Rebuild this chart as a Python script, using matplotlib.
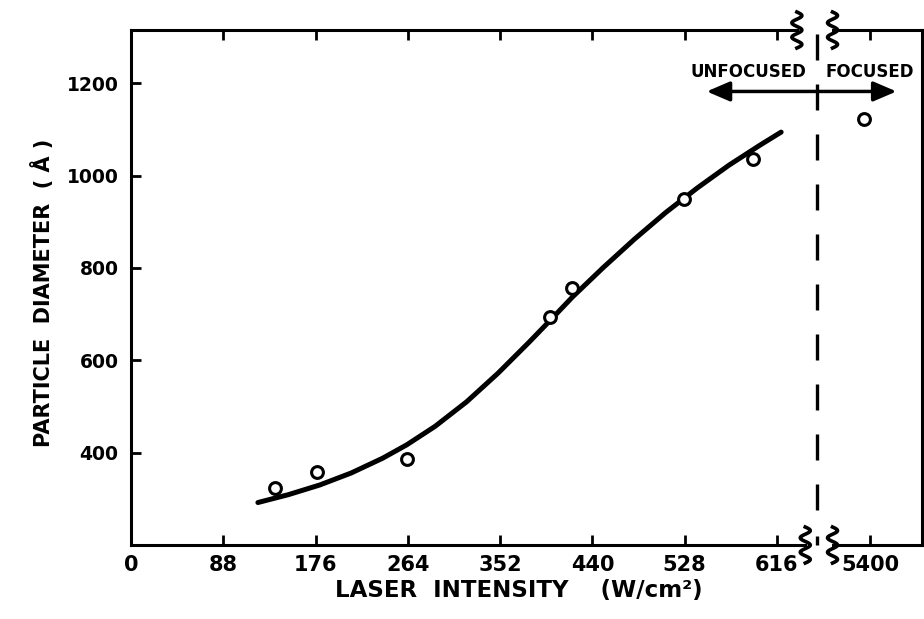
import numpy as np
import matplotlib
matplotlib.use("Agg")
import matplotlib.pyplot as plt
from matplotlib import transforms
from matplotlib.lines import Line2D
from matplotlib.collections import LineCollection

plt.rcParams['font.family'] = ['DejaVu Sans']
plt.rcParams['font.weight'] = 'bold'

# Measured particle diameters (unfocused beam)
intensity = [137, 177, 263, 400, 421, 527, 593]
diameter = [324, 359, 387, 694, 757, 949, 1036]

# Focused beam measurement
focused_intensity = [5340]
focused_diameter = [1122]

# Hand-drawn trend curve through the unfocused data
fit_intensity = [121, 150, 180, 210, 240, 263, 290, 320, 350, 380, 400,
                 421, 450, 480, 510, 540, 570, 600, 620]
fit_diameter = [292, 309, 330, 356, 388, 417, 457, 510, 572, 640, 687,
                737, 800, 862, 920, 973, 1022, 1066, 1094]

x_ticks = [0, 88, 176, 264, 352, 440, 528, 616, 5400]
x_tick_labels = ['0', '88', '176', '264', '352', '440', '528', '616', '5400']
y_ticks = [400, 600, 800, 1000, 1200]
y_tick_labels = ['400', '600', '800', '1000', '1200']

# Broken x axis: linear up to BREAK, then a compressed segment around 5400
BREAK = 654.0
RESUME = 4890.0
STRETCH = 10.0


def forward(x):
    x = np.asarray(x, dtype=float)
    return np.where(x <= BREAK, x,
                    np.where(x < RESUME, BREAK, BREAK + (x - RESUME) / STRETCH))


def inverse(p):
    p = np.asarray(p, dtype=float)
    return np.where(p <= BREAK, p, RESUME + (p - BREAK) * STRETCH)


fig = plt.figure(figsize=(9.24, 6.19), dpi=100)
ax = fig.add_axes([0.1418, 0.1195, 0.856, 0.832])
ax.set_xscale('function', functions=(forward, inverse))

XMAX = RESUME + (754.3 - BREAK) * STRETCH
ax.set_xlim(0, XMAX)
ax.set_ylim(200, 1315)
ax.autoscale(False)

lw = 2.2
ax.plot(fit_intensity, fit_diameter, color='black', lw=3.6,
        solid_capstyle='round', solid_joinstyle='round', zorder=2)
ax.plot(intensity, diameter, 'o', ms=8.5, mfc='white', mec='black',
        mew=2.2, zorder=3)
ax.plot(focused_intensity, focused_diameter, 'o', ms=8.5, mfc='white',
        mec='black', mew=2.2, zorder=3)

ax.set_xticks(x_ticks)
ax.set_xticklabels(x_tick_labels)
ax.set_yticks(y_ticks)
ax.set_yticklabels(y_tick_labels)
ax.minorticks_off()
ax.tick_params(axis='x', direction='in', length=7, width=2, top=True,
               bottom=True, labelsize=15, pad=7)
ax.tick_params(axis='y', direction='in', length=7, width=2, left=True,
               right=False, labelsize=13.5, pad=9)

for side in ('left', 'right'):
    ax.spines[side].set_linewidth(lw)
for side in ('top', 'bottom'):
    ax.spines[side].set_visible(False)

xt = ax.get_xaxis_transform()
# Top and bottom frame with a gap at the axis break
for y, x_end in ((1.0, 635), (0.0, 643)):
    ax.add_artist(Line2D([0, x_end], [y, y], transform=xt, color='black',
                         lw=lw, solid_capstyle='projecting', clip_on=False))
    ax.add_artist(Line2D([5040, XMAX], [y, y], transform=xt, color='black',
                         lw=lw, solid_capstyle='projecting', clip_on=False))


def squiggle(xval, yfrac):
    t = np.linspace(0, 1, 80)
    ys = (t - 0.5) * 0.36
    xs = 0.05 * np.sin(t * 2.5 * 2 * np.pi)
    trans = fig.dpi_scale_trans + transforms.ScaledTranslation(xval, yfrac, xt)
    ax.add_artist(Line2D(xs, ys, transform=trans, color='black', lw=2.6,
                         clip_on=False))


squiggle(635, 1.0)
squiggle(5040, 1.0)
squiggle(643, 0.0)
squiggle(5040, 0.0)

# Dashed divider between unfocused and focused regimes (dash 26 px, period 50 px)
axes_px = 515.0
dash, period = 26.0 / axes_px, 50.0 / axes_px
starts = np.arange(35.0 / axes_px, 1.0, period)
segments = [[(BREAK, 0.0), (BREAK, 9.0 / axes_px)]]
segments += [[(BREAK, s), (BREAK, min(s + dash, 1.0))] for s in starts]
ax.add_collection(LineCollection(segments, colors='black', linewidths=2.4,
                                 transform=xt, clip_on=False,
                                 capstyle='butt'), autolim=False)

ax.annotate('', xy=(549, 1182), xytext=(5650, 1182),
            arrowprops=dict(arrowstyle='<|-|>,head_length=0.7,head_width=0.3',
                            lw=2.5, color='black', shrinkA=0, shrinkB=0,
                            mutation_scale=20))
ax.text(589, 1224, 'UNFOCUSED', ha='center', va='center', fontsize=12,
        fontweight='bold')
ax.text(5395, 1224, 'FOCUSED', ha='center', va='center', fontsize=12,
        fontweight='bold')

ax.set_xlabel('LASER  INTENSITY    (W/cm²)', fontsize=16.5, fontweight='bold')
ax.set_ylabel('PARTICLE  DIAMETER  ( Å )', fontsize=15, fontweight='bold')
ax.xaxis.set_label_coords(0.49, -0.066)
ax.yaxis.set_label_coords(-0.098, 0.49)

fig.savefig('out.png', dpi=100)
